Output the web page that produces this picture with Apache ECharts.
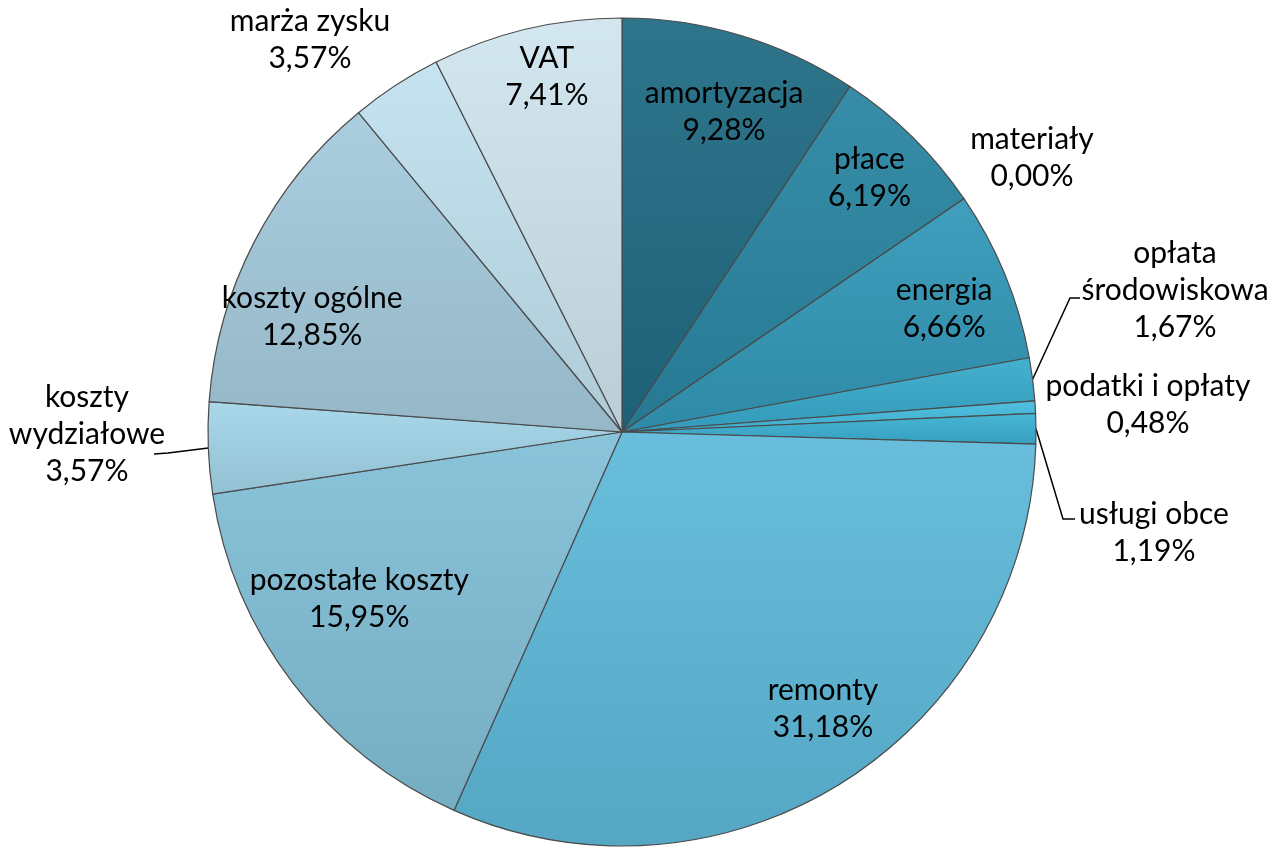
<!DOCTYPE html>
<html>
<head>
<meta charset="utf-8">
<script src="https://cdn.jsdelivr.net/npm/echarts@6/dist/echarts.min.js"></script>
<style>
  html, body { margin: 0; padding: 0; background: #fff; }
  #chart { width: 1273px; height: 847px; }
</style>
</head>
<body>
<div id="chart"></div>
<script>
// struktura kosztów, % (zgodnie z ruchem wskazówek od godz. 12)
const categories = [
  'amortyzacja', 'płace', 'materiały', 'energia', 'opłata\nśrodowiskowa',
  'podatki i opłaty', 'usługi obce', 'remonty', 'pozostałe koszty',
  'koszty\nwydziałowe', 'koszty ogólne', 'marża zysku', 'VAT',
]
const shares = [9.28, 6.19, 0.00, 6.66, 1.67, 0.48, 1.19, 31.18, 15.95, 3.57, 12.85, 3.57, 7.41]

const sliceColors = [
  '#216c84', '#2a86a2', '#3090b0', '#3399b9', '#39abcc', '#46bde0', '#3cb1d3',
  '#5ebada', '#82c0d8', '#a3d5ea', '#a5cbdd', '#c1e1ef', '#d0e5ef',
]

// etykiety poza kołem: [x, y] środka tekstu, opcjonalnie punkty łamania linii
const outsideLabels = {
  2: { pos: [1032, 158] },
  4: { pos: [1175, 290], line: [[1070, 298], [1080, 298]] },
  5: { pos: [1148, 405] },
  6: { pos: [1154, 533], line: [[1063, 519], [1075, 519]] },
  9: { pos: [87, 434], line: [[168, 453], [154, 454]] },
  11: { pos: [310, 40] },
}
// korekty etykiet wewnątrz wycinków
const insideNudge = {
  0: [6, 0], 1: [13, -16], 3: [13, 4], 7: [23, -6], 8: [3, -36], 10: [-13, 38], 12: [2, -30],
}

const CX = 622, CY = 432, R = 414

const fmt = (p) => p.name + '\n' + p.value.toFixed(2).replace('.', ',') + '%'

function shade(hex, k) {
  const n = parseInt(hex.slice(1), 16)
  const ch = [(n >> 16) & 255, (n >> 8) & 255, n & 255].map((c) =>
    Math.round(k > 0 ? c + (255 - c) * k : c * (1 + k)))
  return `rgb(${ch.join(',')})`
}

const textStyle = {
  fontFamily: 'Lato, "Open Sans", sans-serif',
  fontSize: 30,
  lineHeight: 37,
  color: '#000',
  align: 'center',
}

const chart = echarts.init(document.getElementById('chart'))

chart.setOption({
  animation: false,
  series: [
    {
      type: 'pie',
      center: [CX, CY],
      radius: [0, R],
      startAngle: 90,
      clockwise: true,
      avoidLabelOverlap: false,
      silent: true,
      itemStyle: { borderColor: '#4a4a4a', borderWidth: 1.2 },
      label: { show: false },
      labelLine: { show: false, lineStyle: { color: '#000', width: 1.5 }, smooth: false },
      labelLayout(p) {
        const o = outsideLabels[p.dataIndex]
        if (!o) return {}
        const res = { x: o.pos[0], y: o.pos[1], align: 'center', verticalAlign: 'middle' }
        if (o.line && p.labelLinePoints) {
          res.labelLinePoints = [p.labelLinePoints[0], o.line[0], o.line[1]]
        }
        return res
      },
      data: categories.map((name, i) => {
        const o = outsideLabels[i]
        return {
          name,
          value: shares[i],
          itemStyle: {
            color: new echarts.graphic.LinearGradient(0, 0, 0, 1, [
              { offset: 0, color: shade(sliceColors[i], 0.06) },
              { offset: 1, color: shade(sliceColors[i], -0.1) },
            ]),
          },
          label: o ? { show: true, position: 'outside', formatter: fmt, ...textStyle } : { show: false },
          labelLine: { show: !!(o && o.line), length: 20, length2: 10 },
        }
      }),
    },
    {
      // warstwa z etykietami wewnątrz wycinków
      type: 'pie',
      center: [CX, CY],
      radius: [R * 0.6, R],
      startAngle: 90,
      clockwise: true,
      avoidLabelOverlap: false,
      silent: true,
      itemStyle: { color: 'rgba(0,0,0,0)', borderWidth: 0 },
      labelLine: { show: false },
      labelLayout(p) {
        const d = insideNudge[p.dataIndex]
        return d ? { dx: d[0], dy: d[1] } : {}
      },
      data: categories.map((name, i) => ({
        name,
        value: shares[i],
        label: insideNudge[i]
          ? { show: true, position: 'inside', formatter: fmt, ...textStyle }
          : { show: false },
      })),
    },
  ],
})
</script>
</body>
</html>
